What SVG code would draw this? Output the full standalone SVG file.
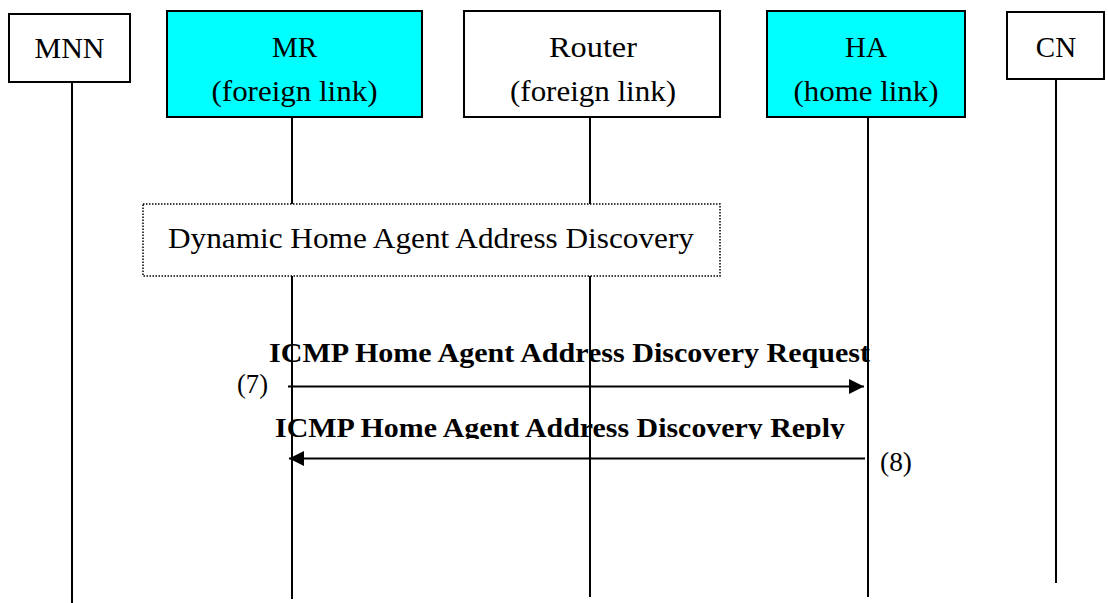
<svg xmlns="http://www.w3.org/2000/svg" width="1108" height="603" viewBox="0 0 1108 603">
  <style>
    .box { stroke: #000; stroke-width: 2; }
    .white { fill: #fff; }
    .cyan { fill: #00ffff; }
    .life { stroke: #000; stroke-width: 2; fill: none; }
    .lbl { font-family: "Liberation Serif", "Times New Roman", serif; font-size: 29px; fill: #000; }
    .msg { font-family: "Liberation Serif", "Times New Roman", serif; font-size: 28px; font-weight: bold; fill: #000; }
    .num { font-family: "Liberation Serif", "Times New Roman", serif; font-size: 27px; fill: #000; }
    .arrow { stroke: #000; stroke-width: 2; fill: none; marker-end: url(#ah); }
  </style>
  <defs>
    <marker id="ah" markerUnits="userSpaceOnUse" markerWidth="16" markerHeight="16" refX="15" refY="7.5" orient="auto">
      <path d="M0,0 L15,7.5 L0,15 Z" fill="#000"/>
    </marker>
    <clipPath id="clipNode"><rect x="0" y="0" width="1108" height="107"/></clipPath>
    <clipPath id="clipReq"><rect x="0" y="300" width="1108" height="71"/></clipPath>
    <clipPath id="clipRep"><rect x="0" y="400" width="1108" height="39"/></clipPath>
  </defs>
  <rect width="1108" height="603" fill="#fff"/>

  <g id="lifelines">
    <line class="life" x1="72" y1="82" x2="72" y2="603"/>
    <line class="life" x1="292" y1="117" x2="292" y2="599"/>
    <line class="life" x1="590" y1="117" x2="590" y2="597"/>
    <line class="life" x1="868" y1="117" x2="868" y2="597"/>
    <line class="life" x1="1056" y1="79" x2="1056" y2="583"/>
  </g>

  <g id="node-mnn">
    <rect class="box white" x="9" y="14" width="121" height="68"/>
    <text class="lbl" x="69.5" y="58" text-anchor="middle" textLength="70" lengthAdjust="spacingAndGlyphs">MNN</text>
  </g>
  <g id="node-mr">
    <rect class="box cyan" x="167" y="11" width="255" height="106"/>
    <text class="lbl" x="294.5" y="57" text-anchor="middle">MR</text>
    <text class="lbl" x="294.5" y="101" text-anchor="middle" textLength="166" lengthAdjust="spacingAndGlyphs" clip-path="url(#clipNode)">(foreign link)</text>
  </g>
  <g id="node-router">
    <rect class="box white" x="464" y="11" width="256" height="106"/>
    <text class="lbl" x="593" y="57" text-anchor="middle" textLength="88" lengthAdjust="spacingAndGlyphs">Router</text>
    <text class="lbl" x="593" y="101" text-anchor="middle" textLength="166" lengthAdjust="spacingAndGlyphs" clip-path="url(#clipNode)">(foreign link)</text>
  </g>
  <g id="node-ha">
    <rect class="box cyan" x="767" y="11" width="198" height="106"/>
    <text class="lbl" x="866" y="57" text-anchor="middle">HA</text>
    <text class="lbl" x="866" y="101" text-anchor="middle" textLength="145" lengthAdjust="spacingAndGlyphs" clip-path="url(#clipNode)">(home link)</text>
  </g>
  <g id="node-cn">
    <rect class="box white" x="1007" y="12" width="97" height="67"/>
    <text class="lbl" x="1056" y="57" text-anchor="middle">CN</text>
  </g>

  <g id="node-dhaad">
    <rect x="143" y="204" width="577" height="72" fill="#fff" stroke="#000" stroke-width="1.5" stroke-dasharray="1.5 1.5"/>
    <text class="lbl" x="168" y="248" textLength="526" lengthAdjust="spacingAndGlyphs">Dynamic Home Agent Address Discovery</text>
  </g>

  <g id="connectors">
    <line class="arrow" x1="288" y1="386.5" x2="864" y2="386.5"/>
    <line class="arrow" x1="865" y1="458.5" x2="289" y2="458.5"/>
  </g>

  <g id="labels">
    <text class="msg" x="269" y="362" textLength="601" lengthAdjust="spacingAndGlyphs" clip-path="url(#clipReq)">ICMP Home Agent Address Discovery Request</text>
    <text class="num" x="237" y="393" textLength="31" lengthAdjust="spacingAndGlyphs">(7)</text>
    <text class="msg" x="275" y="437" textLength="570" lengthAdjust="spacingAndGlyphs" clip-path="url(#clipRep)">ICMP Home Agent Address Discovery Reply</text>
    <text class="num" x="880" y="471" textLength="32" lengthAdjust="spacingAndGlyphs">(8)</text>
  </g>
</svg>
